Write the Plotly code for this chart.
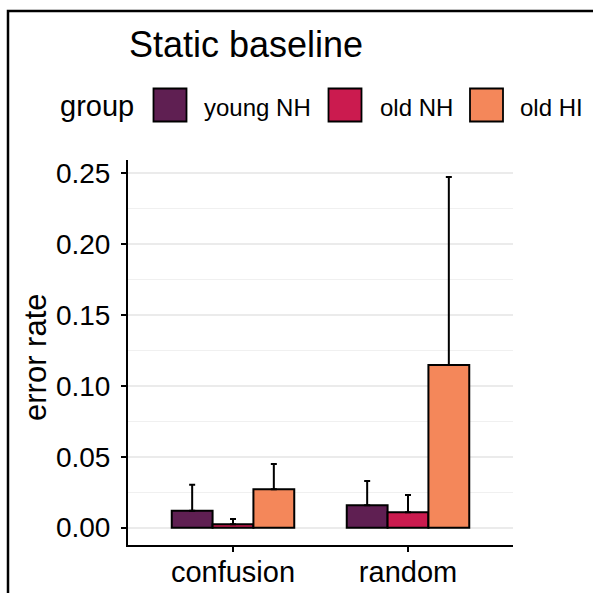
import plotly.graph_objects as go

# ---- data ----
categories = ["confusion", "random"]
groups = ["young NH", "old NH", "old HI"]
mean_young_nh = [0.0120, 0.0158]
mean_old_nh = [0.0024, 0.0108]
mean_old_hi = [0.0270, 0.1146]
err_young_nh = [0.0183, 0.0171]
err_old_nh = [0.0037, 0.0122]
err_old_hi = [0.0179, 0.1324]
y_ticks = [0.00, 0.05, 0.10, 0.15, 0.20, 0.25]
title_text = "Static baseline"
legend_title = "group"
y_title = "error rate"

# ---- styles ----
colors = ["#5F1F52", "#CB1B4F", "#F4875A"]
FONT = "Liberation Sans, Arial, sans-serif"
W = H = 593
PL, PR, PT, PB = 128, 513, 160, 545  # plot area in pixels


def px_x(p):
    return (p - PL) / (PR - PL)


def px_y(p):
    return (PB - p) / (PB - PT)


means = [mean_young_nh, mean_old_nh, mean_old_hi]
errs = [err_young_nh, err_old_nh, err_old_hi]

fig = go.Figure()
for g, m, e, c in zip(groups, means, errs, colors):
    fig.add_trace(go.Bar(
        x=categories, y=m, name=g,
        marker=dict(color=c, line=dict(color="black", width=2)),
        error_y=dict(type="data", array=e, arrayminus=[0] * len(e), symmetric=False,
                     color="black", thickness=2, width=3),
        showlegend=False,
    ))

shapes = []
annotations = []

# outer frame (partially visible)
shapes.append(dict(type="rect", xref="paper", yref="paper",
                   x0=px_x(8), x1=px_x(700), y0=px_y(11), y1=px_y(700),
                   line=dict(color="black", width=2.5), fillcolor="rgba(0,0,0,0)", layer="above"))

# manual legend
box_left = [153.5, 328.5, 470]
label_left = [203.5, 379.5, 520]
box_top, box_bot = 88.5, 121.5
annotations.append(dict(text=legend_title, xref="paper", yref="paper", x=px_x(58), y=px_y(106),
                        xanchor="left", yanchor="middle", showarrow=False,
                        font=dict(family=FONT, size=29, color="black")))
for g, c, bl, ll in zip(groups, colors, box_left, label_left):
    shapes.append(dict(type="rect", xref="paper", yref="paper",
                       x0=px_x(bl), x1=px_x(bl + 33), y0=px_y(box_bot), y1=px_y(box_top),
                       fillcolor=c, line=dict(color="black", width=1.8)))
    annotations.append(dict(text=g, xref="paper", yref="paper", x=px_x(ll - 2), y=px_y(107),
                            xanchor="left", yanchor="middle", showarrow=False,
                            font=dict(family=FONT, size=24, color="black")))

# y axis title
annotations.append(dict(text=y_title, xref="paper", yref="paper", x=px_x(35), y=px_y(358),
                        xanchor="center", yanchor="middle", textangle=-90, showarrow=False,
                        font=dict(family=FONT, size=31, color="black")))

fig.update_layout(
    width=W, height=H,
    margin=dict(l=PL, r=W - PR, t=PT, b=H - PB, autoexpand=False),
    paper_bgcolor="white", plot_bgcolor="white",
    barmode="group", bargap=0.3, bargroupgap=0,
    title=dict(text=title_text, xref="paper", x=px_x(129), xanchor="left",
               yref="container", y=1 - 44 / H, yanchor="middle",
               font=dict(family=FONT, size=36, color="black")),
    font=dict(family=FONT, color="black"),
    shapes=shapes, annotations=annotations,
    showlegend=False,
)
fig.update_xaxes(
    type="category", range=[-0.6, 1.6], showgrid=False,
    showline=True, linecolor="black", linewidth=2,
    ticks="outside", ticklen=5, tickwidth=2, tickcolor="black",
    tickfont=dict(family=FONT, size=29, color="black"),
    ticklabelstandoff=-5,
)
fig.update_yaxes(
    range=[-0.0122, 0.259], tickvals=y_ticks, tickformat=".2f",
    showline=True, linecolor="black", linewidth=2,
    ticks="outside", ticklen=5, tickwidth=2, tickcolor="black",
    tickfont=dict(family=FONT, size=28, color="black"),
    showgrid=True, gridcolor="#EBEBEB", gridwidth=1.8,
    zeroline=False,
    minor=dict(dtick=0.025, tick0=0, showgrid=True, gridcolor="#F0F0F0", gridwidth=1, ticks=""),
    ticklabelstandoff=5,
)

fig.write_html(
    "out.html",
    config={"displayModeBar": False},
    post_script="document.body.style.margin='0';document.body.style.overflow='hidden';",
)
